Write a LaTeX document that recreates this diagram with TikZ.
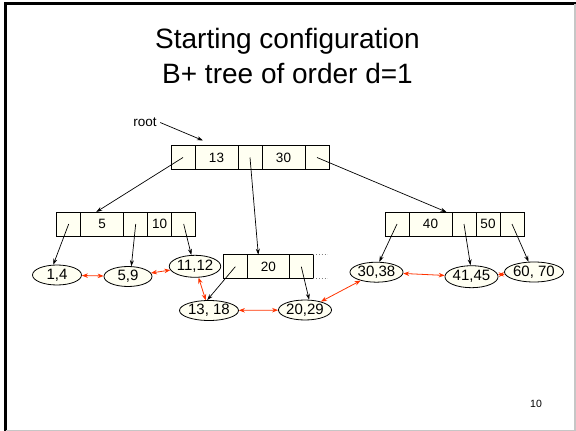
\documentclass[tikz,border=0pt]{standalone}
\usepackage{fontspec}
\setmainfont{Liberation Sans}
\usepackage{tikz}
\usetikzlibrary{positioning}
\usetikzlibrary{shapes.geometric}
\usetikzlibrary{arrows.meta}
\definecolor{cellfill}{RGB}{255,255,242}
\definecolor{linkred}{RGB}{255,51,0}

\begin{document}
\begin{tikzpicture}[x=1pt, y=-1pt]

                % cells of the index nodes and the leaves
                \tikzset{
                    cell/.style={draw, fill=cellfill, line width=0.8pt,
                        inner sep=0pt, outer sep=0pt, minimum height=24pt,
                        font=\fontsize{13.5}{14}\selectfont},
                    ptrcell/.style={cell, minimum width=24pt},
                    keycell/.style={cell, minimum width=43pt},
                    smallkey/.style={cell, minimum width=24pt},
                    leaf/.style={draw, ellipse, fill=cellfill, line width=0.8pt,
                        inner sep=0pt, minimum width=48pt, minimum height=20pt,
                        font=\fontsize{15}{16}\selectfont},
                    ptr/.style={-{Stealth[length=6pt,width=4pt]}, line width=0.7pt},
                    link/.style={{Stealth[length=6pt,width=4.5pt]}-{Stealth[length=6pt,width=4.5pt]},
                        linkred, line width=0.8pt},
                    titleline/.style={anchor=base, font=\fontsize{28}{34}\selectfont}
                }

                \useasboundingbox (0,0) rectangle (576,431);

                % slide frame
                \draw[line width=2.5pt] (5.5,431) -- (5.5,3.5) -- (576,3.5);
                \draw[gray!45, line width=1.2pt] (575,3.5) -- (575,430.2) -- (5.5,430.2);

                % title
                \node[titleline] (title1) at (287.5,48) {Starting configuration};
                \node[titleline] (title2) at (287.5,83) {B+ tree of order d=1};

                % root
                \node[ptrcell] (r0) at (183,157.5) {};
                \node[keycell, right=0pt of r0] (r1) {13};
                \node[ptrcell, right=0pt of r1] (r2) {};
                \node[keycell, right=0pt of r2] (r3) {30};
                \node[ptrcell, right=0pt of r3] (r4) {};

                \node (rootlbl) at (145,122.5) [font=\fontsize{13.5}{14}\selectfont] {root};

                % left index node
                \node[ptrcell] (l0) at (68.7,224) {};
                \node[keycell, right=0pt of l0] (l1) {5};
                \node[ptrcell, right=0pt of l1] (l2) {};
                \node[smallkey, right=0pt of l2] (l3) {10};
                \node[ptrcell, right=0pt of l3] (l4) {};

                % middle index node
                \node[ptrcell] (m0) at (235.3,266.7) {};
                \node[keycell, minimum width=42pt, right=0pt of m0] (m1) {20};
                \node[ptrcell, right=0pt of m1] (m2) {};

                % right index node
                \node[ptrcell] (R0) at (397,224) {};
                \node[keycell, right=0pt of R0] (R1) {40};
                \node[ptrcell, right=0pt of R1] (R2) {};
                \node[smallkey, right=0pt of R2] (R3) {50};
                \node[ptrcell, right=0pt of R3] (R4) {};

                % leaves
                \node[leaf, minimum width=49pt] (la) at (57,275) {1,4};
                \node[leaf] (lb) at (128,276.5) {5,9};
                \node[leaf, minimum height=22pt] (lc) at (195,266.3) {11,12};
                \node[leaf, minimum width=47pt] (ld) at (209,310.5) {13, 18};
                \node[leaf, minimum width=49pt] (le) at (305,310) {20,29};
                \node[leaf] (lf) at (376.5,272.2) {30,38};
                \node[leaf, minimum height=22pt] (lg) at (471.5,276.7) {41,45};
                \node[leaf, minimum width=52pt] (lh) at (534,272) {60, 70};

                \begin{scope}[dotted, line width=0.8pt, gray]
                    \draw (m2.north east) -- ++(14,0);
                    \draw (m2.south east) -- ++(14,0);
                \end{scope}

                % child pointers
                \begin{scope}
                    \draw[ptr] (rootlbl.east) -- ([shift={(8pt,5pt)}]r1.north west);
                    \draw[ptr] (r0.center) -- ([xshift=-6pt]l1.north);
                    \draw[ptr] (r2.center) -- ([xshift=-10pt]m1.north);
                    \draw[ptr] (r4.center) -- ([xshift=16pt]R1.north);
                    \draw[ptr] (l0.center) -- (la.110);
                    \draw[ptr] (l2.center) -- (lb.72);
                    \draw[ptr] (l4.center) -- (lc.108);
                    \draw[ptr] (m0.center) -- (ld.100);
                    \draw[ptr] (m2.center) -- (le.68);
                    \draw[ptr] (R0.center) -- (lf.75);
                    \draw[ptr] (R2.center) -- (lg.95);
                    \draw[ptr] (R4.center) -- (lh.118);
                \end{scope}

                % sibling links between the leaves
                \begin{scope}
                    \draw[link] (la) -- (lb);
                    \draw[link] (lb) -- (lc);
                    \draw[link] (lc) -- (ld);
                    \draw[link] (ld) -- (le);
                    \draw[link] (le) -- (lf);
                    \draw[link] (lf) -- (lg);
                    \draw[link] (lg) -- (lh);
                \end{scope}

                % page number
                \node (pagenum) at (536,403.5) [font=\fontsize{10.5}{11}\selectfont] {10};

\end{tikzpicture}
\end{document}
